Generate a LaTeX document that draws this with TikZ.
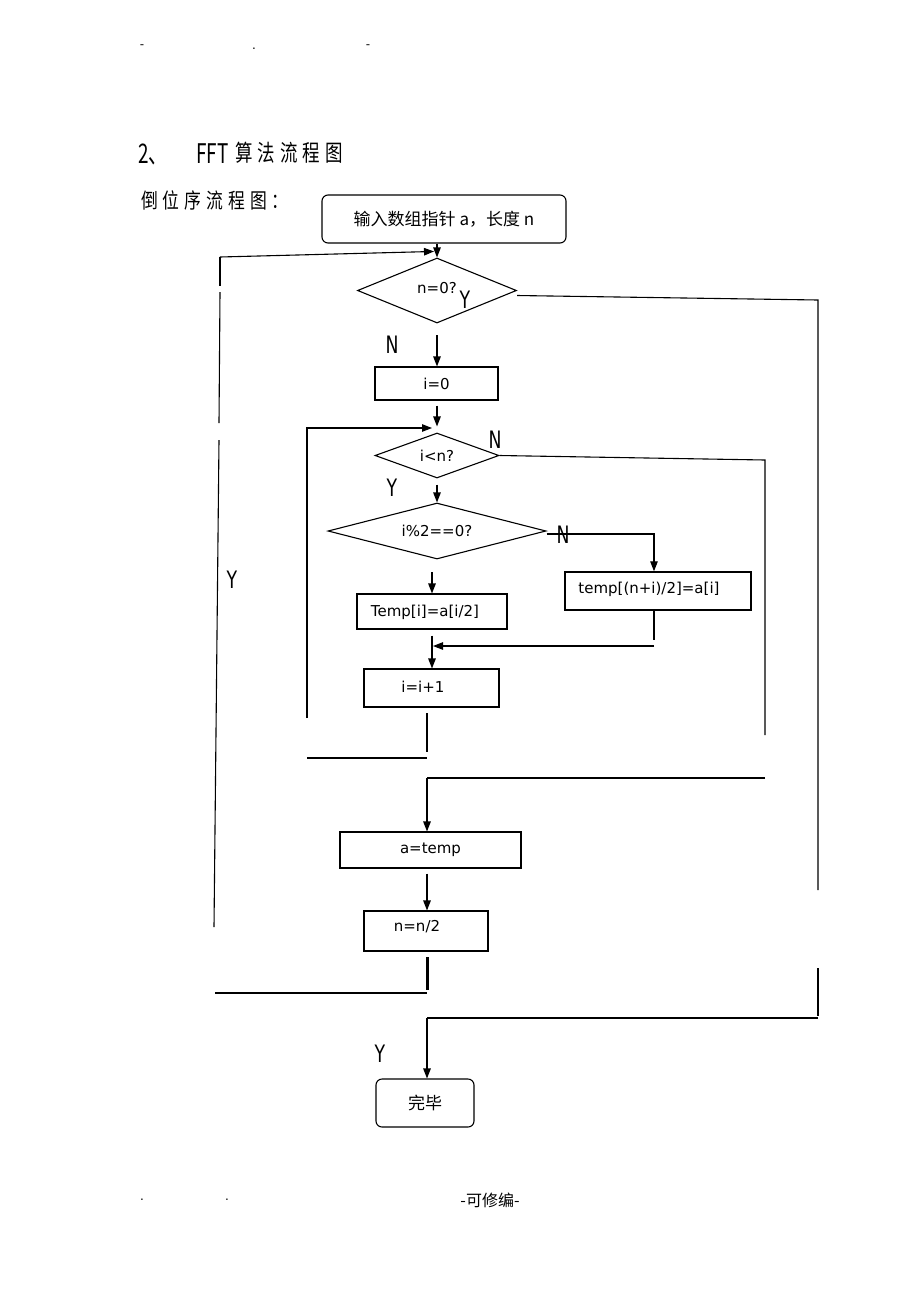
\documentclass[tikz,border=0pt]{standalone}
\usepackage{fontspec}
\setmainfont{DejaVu Sans}
\newfontfamily\cjk{Noto Sans CJK SC}
\newfontfamily\cjkc[FakeStretch=0.8]{Noto Sans CJK SC}
\newfontfamily\cjkd[FakeStretch=0.76]{Noto Sans CJK SC}
\newfontfamily\cjkf[FakeStretch=0.7]{Noto Sans CJK SC}
\newfontfamily\lbl[FakeStretch=0.72]{DejaVu Sans}
\usetikzlibrary{shapes.geometric,arrows.meta,calc}
\begin{document}
\begin{tikzpicture}[x=1pt,y=-1pt,
  ln/.style={line width=1.1pt, draw=black},
  arr/.style={ln,-{Triangle[length=10pt,width=7.5pt]}},
  pbox/.style={draw, line width=1.1pt, inner sep=0pt, font=\fontsize{15}{18}\selectfont},
  rbox/.style={pbox, rounded corners=6pt},
  dia/.style={diamond, draw, line width=1.1pt, inner sep=0pt, font=\fontsize{15}{18}\selectfont},
  txt/.style={inner sep=0pt, font=\fontsize{15}{18}\selectfont},
  yn/.style={inner sep=0pt, font=\lbl\fontsize{24}{26}\selectfont},
  dotmark/.style={inner sep=0pt, font=\fontsize{12}{14}\selectfont}
]
\useasboundingbox (0,0) rectangle (920,1302);
\fill[white] (0,0) rectangle (920,1302);

% header / footer marks
\node[dotmark] (h1) at (142,47) {-};
\node[dotmark] (h2) at (254,49) {.};
\node[dotmark] (h3) at (368,47) {-};
\node[dotmark] (f1) at (142,1200) {.};
\node[dotmark] (f2) at (227,1200) {.};
\node[inner sep=0pt, font=\cjk\fontsize{16}{18}\selectfont] (f3) at (490,1200) {-可修编-};

% titles
\node[anchor=base west, inner sep=0pt, font=\cjkf\fontsize{27}{29}\selectfont] (t1) at (138,163) {2、};
\node[anchor=base west, inner sep=0pt, font=\cjkf\fontsize{27}{29}\selectfont] (t2) at (196,163) {FFT};
\node[anchor=base west, inner sep=0pt, font=\cjkd\fontsize{23}{25}\selectfont] (t3) at (235,161) {算\hspace{5pt}法\hspace{5pt}流\hspace{5pt}程\hspace{5pt}图};
\node[anchor=base west, inner sep=0pt, font=\cjkc\fontsize{21}{23}\selectfont] (t4) at (141,208) {倒\hspace{5pt}位\hspace{5pt}序\hspace{5pt}流\hspace{5pt}程\hspace{5pt}图\hspace{5pt}：};

% nodes
\node[rbox, minimum width=244, minimum height=48, font=\cjk\fontsize{17}{20}\selectfont] (start) at (444,219) {输入数组指针 a，长度 n};
\node[dia, minimum width=159, minimum height=65, shape aspect=2.45] (d1) at (437,290.5) {};
\node[txt] (d1t) at (437,288) {n=0?};
\node[pbox, minimum width=123, minimum height=33] (i0) at (436.5,383.5) {i=0};
\node[dia, minimum width=124, minimum height=45, shape aspect=2.76] (d2) at (437,455.5) {i<n?};
\node[dia, minimum width=218, minimum height=56, shape aspect=3.9] (d3) at (437,531) {i\%2==0?};
\node[pbox, minimum width=150, minimum height=35] (tl) at (432,611.5) {};
\node[txt] (tlt) at (425,612) {Temp[i]=a[i/2]};
\node[pbox, minimum width=186, minimum height=38, line width=1.4pt] (tr) at (658,591) {};
\node[txt] (trt) at (649,589) {temp[(n+i)/2]=a[i]};
\node[pbox, minimum width=135, minimum height=38] (inc) at (431.5,688) {};
\node[txt] (inct) at (423,687) {i=i+1};
\node[pbox, minimum width=181, minimum height=36] (at) at (430.5,850) {a=temp};
\node[pbox, minimum width=124, minimum height=40] (nn) at (426,931) {};
\node[txt] (nnt) at (417,927) {n=n/2};
\node[rbox, minimum width=98, minimum height=48, font=\cjk\fontsize{17}{20}\selectfont] (end) at (425,1103) {完毕};

% labels
\node[yn] (y1) at (465,300) {Y};
\node[yn] (n1) at (392,345) {N};
\node[yn] (n2) at (495,440) {N};
\node[yn] (y2) at (392,488) {Y};
\node[yn] (n3) at (563,535) {N};
\node[yn] (y3) at (232,580) {Y};
\node[yn] (y4) at (380,1054) {Y};

% coordinates
\coordinate (L1) at (220,257);
\coordinate (L2) at (220,286);
\coordinate (L3) at (220,292);
\coordinate (L4) at (219,423);
\coordinate (L5) at (219,440);
\coordinate (L6) at (214,927);
\coordinate (L7) at (215,993);
\coordinate (L8) at (427,993);
\coordinate (L9) at (427,957);
\coordinate (R1) at (818,300);
\coordinate (R2) at (818,890);
\coordinate (R3) at (818,968);
\coordinate (R4) at (818,1016);
\coordinate (R5) at (818,1018);
\coordinate (R6) at (427,1018);
\coordinate (Q1) at (765,460);
\coordinate (Q2) at (765,735);
\coordinate (Q3) at (765,778);
\coordinate (Q4) at (427,778);
\coordinate (P1) at (307,718);
\coordinate (P2) at (307,428);
\coordinate (P3) at (432,428);
\coordinate (P4) at (307,758);
\coordinate (P5) at (427,758);
\coordinate (P6) at (427,713);
\coordinate (S1) at (654,534);
\coordinate (S2) at (654,640);
\coordinate (S3) at (654,646);
\coordinate (S4) at (433,646);

% connectors
\draw[arr] (start.south -| d1.north) -- (d1.north);
\draw[arr] (L1) -- ([xshift=-3pt,yshift=6pt]d1.north);
\draw[ln] (L1) -- (L2);
\draw[ln] (L3) -- (L4);
\draw[ln] (L5) -- (L6);
\draw[ln] (L7) -- (L8);
\draw[line width=3pt] (L9) -- (L8 |- 0,990);

\draw[ln] ([yshift=-5pt]d1.east) -- (R1) -- (R2);
\draw[ln] (R3) -- (R4);
\draw[ln] (R5) -- (R6);
\draw[arr] (R6) -- (R6 |- end.north);

\draw[arr] (437,335) -- (i0.north -| 437,0);
\draw[arr] ([yshift=-5pt]i0.south -| 437,0) -- ([yshift=6pt]d2.north);
\draw[arr] (P1) -- (P2) -- (P3);
\draw[ln] (d2.east) -- (Q1) -- (Q2);
\draw[arr] ([yshift=-6pt]d2.south) -- (d3.north);
\draw[arr] ([yshift=-3pt]d3.east) -- (S1) -- (S1 |- tr.north);
\draw[arr] (432,572) -- (tl.north -| 432,0);
\draw[ln] (tr.south -| S1) -- (S2);
\draw[arr] (S3) -- (S4);
\draw[arr] ([yshift=-6pt]tl.south -| 432,0) -- (inc.north -| 432,0);
\draw[line width=2pt] (P6) -- (427,752);
\draw[ln] (P4) -- (P5);
\draw[ln] (Q3) -- (Q4);
\draw[arr] (Q4) -- (Q4 |- at.north);
\draw[arr] ([yshift=-5pt]at.south -| 427,0) -- (nn.north -| 427,0);
\end{tikzpicture}
\end{document}
